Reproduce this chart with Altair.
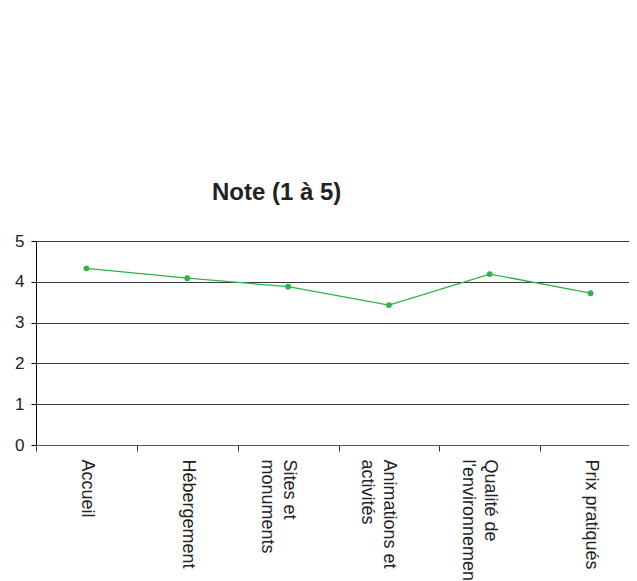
import altair as alt
import pandas as pd

categories = ["Accueil", "Hébergement", "Sites et monuments",
              "Animations et activités", "Qualité de l'environnement", "Prix pratiqués"]
label_lines = {
    "Sites et monuments": ["Sites  et", "monuments"],
    "Animations et activités": ["Animations  et", "activités"],
    "Qualité de l'environnement": ["Qualité de", "l'environnement"],
}
notes = [4.33, 4.09, 3.88, 3.43, 4.19, 3.72]

df = pd.DataFrame({"cat": categories, "note": notes})

expr = "datum.label"
for k, v in label_lines.items():
    expr = "datum.label == \"%s\" ? [\"%s\", \"%s\"] : (%s)" % (k, v[0], v[1], expr)

FONT = "Liberation Sans"
GREEN = "#2db34a"

base = alt.Chart(df).encode(
    x=alt.X("cat:N", sort=categories, title=None,
            scale=alt.Scale(type="band", paddingInner=0, paddingOuter=0),
            axis=alt.Axis(labelAngle=90, labelAlign="left", labelBaseline="middle",
                          labelExpr=expr, labelFont=FONT, labelFontSize=18,
                          labelColor="#222222", labelLineHeight=22, labelPadding=8,
                          tickBand="extent", tickSize=6, tickColor="#333333",
                          domainColor="#555555", grid=False, labelOverlap=False)),
    y=alt.Y("note:Q", title=None,
            scale=alt.Scale(domain=[0, 5], nice=False, zero=True),
            axis=alt.Axis(values=[0, 1, 2, 3, 4, 5], grid=True, gridColor="#3a3a3a",
                          gridWidth=1, domainColor="#000000", tickColor="#000000",
                          tickSize=5, labelFont=FONT, labelFontSize=17,
                          labelColor="#222222", labelPadding=7)),
)

line = base.mark_line(color=GREEN, strokeWidth=1.3)
pts = base.mark_circle(color=GREEN, size=34, opacity=1)

chart = alt.layer(line, pts).properties(
    width=605, height=204,
    title=alt.TitleParams("Note (1 à 5)", font=FONT, fontSize=24, fontWeight="bold",
                          color="#222222", anchor="start", frame="group", dx=176,
                          offset=27),
    padding={"left": 28, "top": 233, "right": -12, "bottom": 136},
    autosize=alt.AutoSizeParams(type="none"),
).configure_view(stroke=None).configure(background="#ffffff")

chart.save("out.html", embed_options={"renderer": "svg", "actions": False})
